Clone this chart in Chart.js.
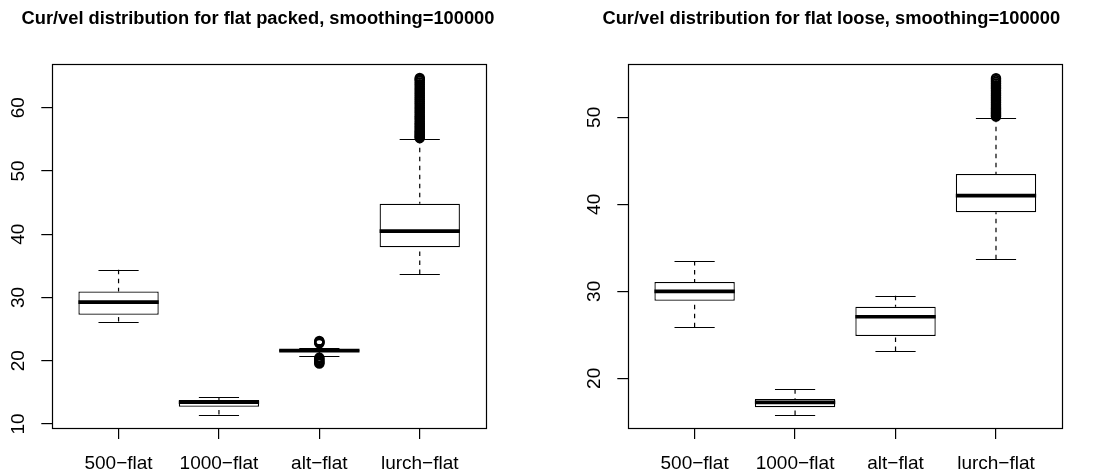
<!DOCTYPE html>
<html><head><meta charset="utf-8">
<script src="https://cdn.jsdelivr.net/npm/chart.js@4.4.1/dist/chart.umd.min.js"></script>
<style>
html,body{margin:0;padding:0;background:#fff;overflow:hidden}
#wrap{position:relative;width:1093px;height:475px;background:#fff}
#c1{position:absolute;left:0;top:0}
#c2{position:absolute;left:546px;top:0}
</style></head><body>
<div id="wrap">
<canvas id="c1" width="546" height="475"></canvas>
<canvas id="c2" width="547" height="475"></canvas>
</div>
<script>
// ---------- data ----------
const categories = ['500−flat', '1000−flat', 'alt−flat', 'lurch−flat'];
const xTickValues = [1, 2, 3, 4];

const packedTitle = 'Cur/vel distribution for flat packed, smoothing=100000';
const packedYTicks = [10, 20, 30, 40, 50, 60];
const packedLowerWhisker = [26.2, 11.5, 20.8, 33.7];
const packedQ1 = [27.27, 12.74, 21.45, 37.95];
const packedMedian = [29.27, 13.45, 21.6, 40.5];
const packedQ3 = [30.95, 13.8, 21.75, 44.84];
const packedUpperWhisker = [34.4, 14.2, 21.95, 55.1];
const packedAltOutliers = [22.75, 22.9, 23.0, 23.13, 20.5, 20.3, 20.1, 19.9, 19.7, 19.55];
const packedLurchOutliers = [55.2, 55.35, 55.5, 55.7, 55.9, 56.1, 56.3, 56.5, 56.8, 57.0, 57.3, 57.5, 57.8, 58.1, 58.4, 58.6, 58.9, 59.2, 59.5, 59.8, 60.1, 60.4, 60.7, 61.0, 61.3, 61.6, 61.9, 62.2, 62.5, 62.8, 63.1, 63.4, 63.7, 64.0, 64.3, 64.5, 64.7];

const looseTitle = 'Cur/vel distribution for flat loose, smoothing=100000';
const looseYTicks = [20, 30, 40, 50];
const looseLowerWhisker = [25.86, 15.78, 23.14, 33.68];
const looseQ1 = [28.92, 16.67, 24.86, 39.08];
const looseMedian = [30.0, 17.24, 27.08, 41.0];
const looseQ3 = [31.07, 17.62, 28.23, 43.48];
const looseUpperWhisker = [33.48, 18.74, 29.5, 49.95];
const looseLurchOutliers = [50.1, 50.2, 50.35, 50.5, 50.65, 50.8, 50.95, 51.1, 51.3, 51.5, 51.7, 51.9, 52.1, 52.3, 52.5, 52.7, 52.9, 53.1, 53.3, 53.5, 53.7, 53.9, 54.1, 54.3, 54.5];

// ---------- drawing ----------
const FONT = '"Liberation Sans", Arial, Helvetica, sans-serif';

function makePlugin(d) {
  return {
    id: 'boxparts_' + d.id,
    beforeDatasetsDraw(chart) {
      const {ctx, scales: {x, y}} = chart;
      ctx.save();
      ctx.strokeStyle = '#000';
      ctx.lineWidth = 1.2;
      xTickValues.forEach((xv, i) => {
        const cx = x.getPixelForValue(xv);
        const sh = x.getPixelForValue(xv + 0.2) - cx;
        const seg = (x1, y1, x2, y2) => { ctx.beginPath(); ctx.moveTo(x1, y1); ctx.lineTo(x2, y2); ctx.stroke(); };
        ctx.setLineDash([4.5, 4.5]);
        seg(cx, y.getPixelForValue(d.upper[i]), cx, y.getPixelForValue(d.q3[i]));
        seg(cx, y.getPixelForValue(d.lower[i]), cx, y.getPixelForValue(d.q1[i]));
        ctx.setLineDash([]);
        const yu = Math.round(y.getPixelForValue(d.upper[i])) + 0.5;
        const yl = Math.round(y.getPixelForValue(d.lower[i])) + 0.5;
        seg(cx - sh, yu, cx + sh, yu);
        seg(cx - sh, yl, cx + sh, yl);
      });
      ctx.restore();
    },
    afterDatasetsDraw(chart) {
      const {ctx, chartArea: a, scales: {x, y}} = chart;
      ctx.save();
      ctx.strokeStyle = '#000';
      ctx.lineWidth = 3.6;
      ctx.lineCap = 'butt';
      xTickValues.forEach((xv, i) => {
        const cx = x.getPixelForValue(xv);
        const bh = x.getPixelForValue(xv + 0.4) - cx;
        const ym = y.getPixelForValue(d.median[i]);
        ctx.beginPath(); ctx.moveTo(cx - bh, ym); ctx.lineTo(cx + bh, ym); ctx.stroke();
      });
      // plot frame
      ctx.lineWidth = 1.2;
      ctx.strokeRect(Math.round(a.left) + 0.5, Math.round(a.top) + 0.5, Math.round(a.right - a.left), Math.round(a.bottom - a.top));
      ctx.restore();
    },
    afterDraw(chart) {
      const {ctx, chartArea: a, scales: {y}} = chart;
      ctx.save();
      ctx.fillStyle = '#000';
      ctx.font = '19px ' + FONT;
      ctx.textAlign = 'center';
      ctx.textBaseline = 'middle';
      d.yTicks.forEach(v => {
        const py = y.getPixelForValue(v);
        ctx.save();
        ctx.translate(a.left - 34, py);
        ctx.rotate(-Math.PI / 2);
        ctx.fillText(String(v), 0, 0);
        ctx.restore();
      });
      ctx.font = 'bold 18.3px ' + FONT;
      ctx.textBaseline = 'alphabetic';
      ctx.fillText(d.title, d.titleX, 24);
      ctx.restore();
    }
  };
}

function makeChart(canvasId, d) {
  const boxes = xTickValues.map((xv, i) => ({x: xv, y: [d.q1[i], d.q3[i]]}));
  const outs = [];
  d.outliers.forEach((arr, i) => arr.forEach(v => outs.push({x: xTickValues[i], y: v})));
  return new Chart(document.getElementById(canvasId), {
    type: 'bar',
    data: {
      datasets: [
        {type: 'bar', data: boxes, backgroundColor: '#fff', borderColor: '#000', borderWidth: 1.3,
         borderSkipped: false, barPercentage: 1, categoryPercentage: 0.8, order: 2},
        {type: 'scatter', data: outs, pointRadius: 4.2, pointHoverRadius: 4.2, pointBorderWidth: 2.1,
         borderColor: '#000', backgroundColor: 'rgba(0,0,0,0)', order: 1}
      ]
    },
    options: {
      responsive: false, animation: false, devicePixelRatio: 1, events: [],
      layout: {padding: {left: d.padLeft, right: d.padRight, top: 64, bottom: 0}},
      plugins: {legend: {display: false}, tooltip: {enabled: false}, title: {display: false}},
      scales: {
        x: {
          type: 'linear', min: 0.34, max: 4.66, offset: false,
          afterBuildTicks: s => { s.ticks = xTickValues.map(v => ({value: v})); },
          afterFit: s => { s.height = 47; },
          grid: {display: true, offset: false, drawOnChartArea: false, drawTicks: true, tickLength: 11, color: '#000', lineWidth: 1.2},
          border: {display: false},
          ticks: {callback: v => categories[xTickValues.indexOf(v)], font: {family: FONT, size: 19}, color: '#000',
                  padding: 13, maxRotation: 0, minRotation: 0, autoSkip: false}
        },
        y: {
          type: 'linear', min: d.yMin, max: d.yMax,
          afterBuildTicks: s => { s.ticks = d.yTicks.map(v => ({value: v})); },
          afterFit: s => { s.width = 52.3; },
          grid: {display: true, drawOnChartArea: false, drawTicks: true, tickLength: 11, color: '#000', lineWidth: 1.2},
          border: {display: false},
          ticks: {display: false}
        }
      }
    },
    plugins: [makePlugin(d)]
  });
}

makeChart('c1', {
  id: 'packed', title: packedTitle, titleX: 258, yTicks: packedYTicks, yMin: 9.37, yMax: 66.92,
  lower: packedLowerWhisker, q1: packedQ1, median: packedMedian, q3: packedQ3, upper: packedUpperWhisker,
  outliers: [[], [], packedAltOutliers, packedLurchOutliers], padLeft: 0, padRight: 60
});
makeChart('c2', {
  id: 'loose', title: looseTitle, titleX: 285.3, yTicks: looseYTicks, yMin: 14.29, yMax: 56.13,
  lower: looseLowerWhisker, q1: looseQ1, median: looseMedian, q3: looseQ3, upper: looseUpperWhisker,
  outliers: [[], [], [], looseLurchOutliers], padLeft: 30, padRight: 30.7
});
</script>
</body></html>
